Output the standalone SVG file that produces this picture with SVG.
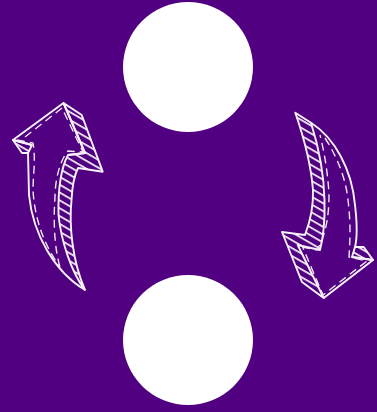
<svg xmlns="http://www.w3.org/2000/svg" width="377" height="412" viewBox="0 0 377 412">
<style>
.node{fill:#fff}
.e{fill:none;stroke:#f8f3fb;stroke-width:1.9;stroke-linejoin:round}
.h{fill:url(#hatch);stroke:#f8f3fb;stroke-width:1.9;stroke-linejoin:round}
.d{fill:none;stroke:#f0e8f5;stroke-width:1.4;stroke-dasharray:8 5}
</style>
<defs>
<pattern id="hatch" width="6.8" height="6.8" patternUnits="userSpaceOnUse" patternTransform="rotate(30)">
<rect width="6.8" height="1.7" fill="#f8f3fb"/>
</pattern>
</defs>
<rect width="377" height="412" fill="#500080"/>
<g id="node-top"><circle class="node" cx="188" cy="67" r="65"/></g>
<g id="node-bottom"><circle class="node" cx="188" cy="340" r="65"/></g>
<g id="connectors">
<g id="arrow-left">
<path class="h" d="M63.5 103 L81.7 115 L102.7 171.7 L78 168 C73 178 72 190 71.5 200 C69 225 72 260 85 290 C71 272 61 240 58.5 215 C58 190 60 170 68 155 L85 153 Z"/>
<path class="h" d="M13 140 L22 153 L28 153 L32 145 Z"/>
<path class="e" d="M32 145 L13 140 L63.5 103 L85 153 L68 155 M85 290 C55 272 33 235 29 195 L28 153"/>
<path class="d" d="M17 140 L33 143 C36 160 33 175 33 190 C34 210 40 240 60 267"/>
<path class="d" d="M25 137 L62 108 L83 152 L68 151 C60 160 55 180 55 197 C53 225 55 250 60 267"/>
</g>
<g id="arrow-right">
<path class="h" d="M295.3 112.7 L311 122.7 C318 145 324 175 324.5 200 C325 220 324 235 320 250 L297.7 245 L323.7 298 L302 282 L282 232 L305 235 C310 222 313.5 205 313 190 C311 165 303 135 295.3 112.7 Z"/>
<path class="h" d="M373 260 L363.7 247 L355 247 L352 257 Z"/>
<path class="e" d="M311 122.7 C335 138 352 170 355 205 C357 222 358 235 355 247 M352 257 L373 260 L323.7 298"/>
<path class="d" d="M302 247 L317 250 C326 235 329 215 329 195 C328 175 325 155 320 135"/>
<path class="d" d="M325 138 C338 158 346 180 348 200 C351 225 350 240 349 257 L367 261 L323 295 L303 248"/>
</g>
</g>
</svg>
